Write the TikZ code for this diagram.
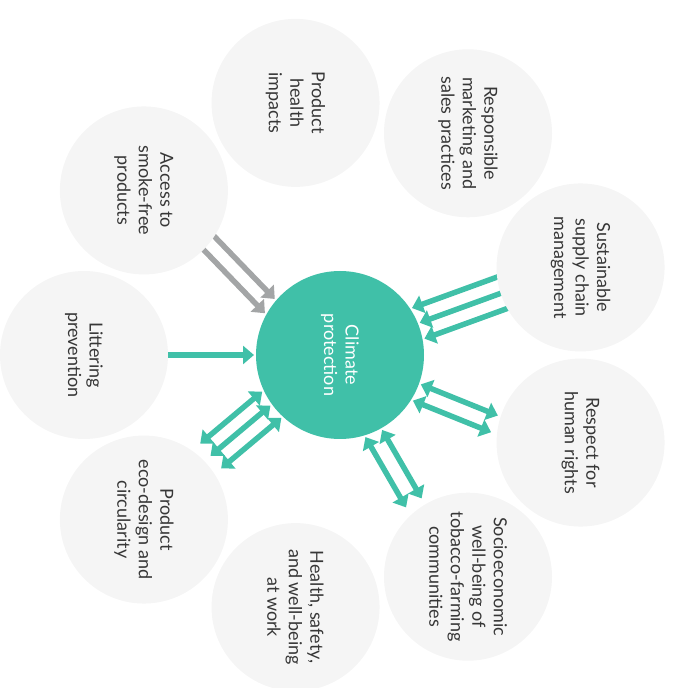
\documentclass[tikz,border=0pt]{standalone}
\usepackage{fontspec}
\setmainfont{Lato}
\usetikzlibrary{arrows.meta,calc,backgrounds}
\definecolor{teal1}{RGB}{64,192,168}
\definecolor{gray1}{RGB}{163,165,166}
\definecolor{bub}{RGB}{245,245,245}
\definecolor{txt}{RGB}{55,55,55}
\begin{document}
\begin{tikzpicture}[x=1pt,y=1pt,
  bubble/.style={circle, fill=bub, minimum size=168pt, inner sep=0pt, rotate=-90,
    align=center, text=txt, font=\fontsize{18}{21.5}\selectfont},
  hub/.style={bubble, fill=teal1, text=white},
  tipshape/.style={},
  onearrow/.style={line width=5.5pt, draw=teal1, -{Triangle[length=11pt,width=18pt]}},
  twoarrow/.style={line width=5.5pt, draw=teal1,
    {Triangle[length=11pt,width=18pt]}-{Triangle[length=11pt,width=18pt]}},
  grayarrow/.style={line width=5.5pt, draw=gray1, -{Triangle[length=11pt,width=18pt]}}]
\useasboundingbox (0,0) rectangle (679,688);
\node[hub] (cp) at (340,333) {Climate\\protection};
\node[bubble] (lit) at ($(cp)+(180:256)$) {Littering\\prevention};
\node[bubble] (acc) at ($(cp)+(140:256)$) {Access to\\smoke-free\\products};
\node[bubble] (phi) at ($(cp)+(100:256)$) {Product\\health\\impacts};
\node[bubble] (rms) at ($(cp)+(60:256)$) {Responsible\\marketing and\\sales practices};
\node[bubble] (ssc) at ($(cp)+(20:256)$) {Sustainable\\supply chain\\management};
\node[bubble] (rhr) at ($(cp)+(-20:256)$) {Respect for\\human rights};
\node[bubble] (soc) at ($(cp)+(-60:256)$) {Socioeconomic\\well-being of\\tobacco-farming\\communities};
\node[bubble] (hsw) at ($(cp)+(-100:256)$) {Health, safety,\\and well-being\\at work};
\node[bubble] (eco) at ($(cp)+(-140:256)$) {Product\\eco-design and\\circularity};
\begin{scope}[on background layer]
\foreach \th/\d/\far/\st [count=\i] in {
  180/0/185/onearrow,
  134/8/185/grayarrow,
  134/25/185/grayarrow,
  20/19.5/185/onearrow,
  20/3/185/onearrow,
  20/-13.5/185/onearrow,
  -22/3/169/twoarrow,
  -22/-15/169/twoarrow,
  -60/-1/165/twoarrow,
  -60/-19/165/twoarrow,
  -140/-22/164/twoarrow,
  -140/-6/164/twoarrow,
  -140/10.5/164/twoarrow}
{
  \pgfmathsetmacro\near{sqrt(84*84-\d*\d)+2}
  \coordinate (n\i) at ($(cp.center)+(\th:\near)+(\th+90:\d)$);
  \coordinate (f\i) at ($(cp.center)+(\th:\far)+(\th+90:\d)$);
  \draw[\st] (f\i) -- (n\i);
}
\end{scope}
\end{tikzpicture}
\end{document}
